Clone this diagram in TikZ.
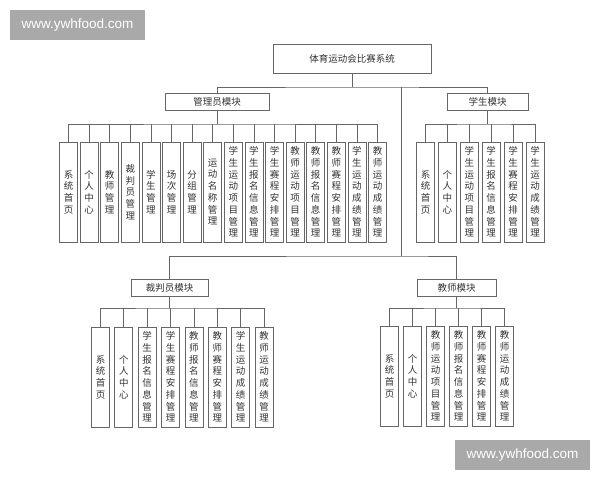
\documentclass[tikz,border=0pt]{standalone}
\usepackage{fontspec}
\setmainfont{Noto Sans CJK SC}
\newfontfamily\wmfont{Liberation Sans}
\definecolor{ln}{HTML}{666666}
\definecolor{txt}{HTML}{333333}
\definecolor{wmg}{HTML}{A9A9A9}
\begin{document}
\begin{tikzpicture}[x=1pt,y=-1pt,
 lnk/.style={draw=ln, line width=0.8pt},
 box/.style={draw=ln, line width=0.8pt, fill=white, inner sep=0pt, text=txt, font=\fontsize{9.5}{11.7}\selectfont, align=center},
 leaf/.style={box, minimum width=18pt, minimum height=100pt},
 mod/.style={box, minimum height=17pt},
 wm/.style={fill=wmg, text=white, font=\wmfont\fontsize{13.5}{16}\selectfont, inner sep=0pt, minimum width=135pt, minimum height=30pt}]
\useasboundingbox (0,0) rectangle (600,480);
\fill[white] (0,0) rectangle (600,480);

\node[box, minimum width=158pt, minimum height=29pt] (root) at (352,58.5) {体育运动会比赛系统};
\node[mod, minimum width=104pt] (adm) at (217,101.5) {管理员模块};
\node[mod, minimum width=81pt] (stu) at (487.5,101.5) {学生模块};
\node[mod, minimum width=77pt] (ref) at (169.5,287.5) {裁判员模块};
\node[mod, minimum width=79pt] (tea) at (456.5,288) {教师模块};

\foreach \t [count=\i] in {{系\\统\\首\\页},{个\\人\\中\\心},{教\\师\\管\\理},{裁\\判\\员\\管\\理},{学\\生\\管\\理},{场\\次\\管\\理},{分\\组\\管\\理},{运\\动\\名\\称\\管\\理},{学\\生\\运\\动\\项\\目\\管\\理},{学\\生\\报\\名\\信\\息\\管\\理},{学\\生\\赛\\程\\安\\排\\管\\理},{教\\师\\运\\动\\项\\目\\管\\理},{教\\师\\报\\名\\信\\息\\管\\理},{教\\师\\赛\\程\\安\\排\\管\\理},{学\\生\\运\\动\\成\\绩\\管\\理},{教\\师\\运\\动\\成\\绩\\管\\理}}
  \node[leaf] (a\i) at ({68.5+20.6*(\i-1)},192) {\t};

\foreach \t [count=\i] in {{系\\统\\首\\页},{个\\人\\中\\心},{学\\生\\运\\动\\项\\目\\管\\理},{学\\生\\报\\名\\信\\息\\管\\理},{学\\生\\赛\\程\\安\\排\\管\\理},{学\\生\\运\\动\\成\\绩\\管\\理}}
  \node[leaf] (s\i) at ({425.5+21.9*(\i-1)},192) {\t};

\foreach \t [count=\i] in {{系\\统\\首\\页},{个\\人\\中\\心},{学\\生\\报\\名\\信\\息\\管\\理},{学\\生\\赛\\程\\安\\排\\管\\理},{教\\师\\报\\名\\信\\息\\管\\理},{教\\师\\赛\\程\\安\\排\\管\\理},{学\\生\\运\\动\\成\\绩\\管\\理},{教\\师\\运\\动\\成\\绩\\管\\理}}
  \node[leaf] (r\i) at ({100.5+23.36*(\i-1)},377) {\t};

\foreach \t [count=\i] in {{系\\统\\首\\页},{个\\人\\中\\心},{教\\师\\运\\动\\项\\目\\管\\理},{教\\师\\报\\名\\信\\息\\管\\理},{教\\师\\赛\\程\\安\\排\\管\\理},{教\\师\\运\\动\\成\\绩\\管\\理}}
  \node[leaf] (t\i) at ({389.5+23*(\i-1)},376) {\t};

% top-level connectors
\coordinate (rb) at (352,87);
\coordinate (mt) at (401,87);
\coordinate (mb) at (401,256);
\draw[lnk] (root.south) -- (rb);
\draw[lnk] (adm.north) |- (rb) -| (stu.north);
\draw[lnk] (mt) -- (mb);
\draw[lnk] (ref.north) |- (mb) -| (tea.north);

% admin bus
\coordinate (ab) at (217,124);
\draw[lnk] (adm.south) -- (ab);
\draw[lnk] (a1.north) |- (ab) -| (a16.north);
\foreach \i in {2,...,15} \draw[lnk] (a\i.north) -- (a\i.north |- ab);

% student bus
\coordinate (sb) at (487.5,124);
\draw[lnk] (stu.south) -- (sb);
\draw[lnk] (s1.north) |- (sb) -| (s6.north);
\foreach \i in {2,...,5} \draw[lnk] (s\i.north) -- (s\i.north |- sb);

% referee bus
\coordinate (fb) at (169.5,308);
\draw[lnk] (ref.south) -- (fb);
\draw[lnk] (r1.north) |- (fb) -| (r8.north);
\foreach \i in {2,...,7} \draw[lnk] (r\i.north) -- (r\i.north |- fb);

% teacher bus
\coordinate (tb) at (456.5,308);
\draw[lnk] (tea.south) -- (tb);
\draw[lnk] (t1.north) |- (tb) -| (t6.north);
\foreach \i in {2,...,5} \draw[lnk] (t\i.north) -- (t\i.north |- tb);

% watermarks
\node[wm] (w1) at (77.5,25) {www.ywhfood.com};
\node[wm] (w2) at (522.5,455) {www.ywhfood.com};
\end{tikzpicture}
\end{document}
